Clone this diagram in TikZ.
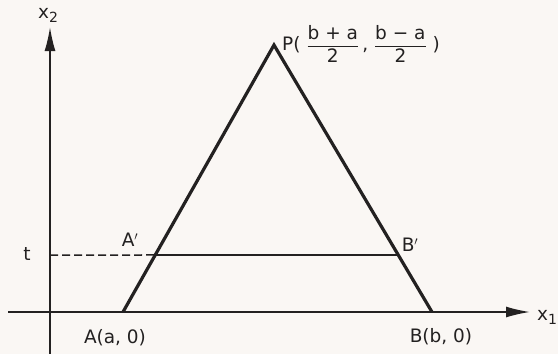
\documentclass[tikz,border=0pt]{standalone}
\usepackage{amsmath}
\usepackage{fontspec}
\setmainfont{DejaVu Sans}
\usetikzlibrary{arrows.meta,calc}
\definecolor{paper}{RGB}{250,247,244}
\definecolor{ink}{RGB}{35,33,33}
\tikzset{
  axis/.style={draw=ink,line width=1.7pt,-{Latex[length=24pt,width=11pt]}},
  tri/.style={draw=ink,line width=3.2pt,line join=miter},
  lab/.style={text=ink,inner sep=0pt,font=\fontsize{18.5}{22}\selectfont}
}
\newcommand{\subtx}[1]{\raisebox{-4pt}{\fontsize{14}{16}\selectfont #1}}
\begin{document}
\begin{tikzpicture}[x=1pt,y=-1pt]
\fill[paper] (0,0) rectangle (558,354);
\useasboundingbox (0,0) rectangle (558,354);
\coordinate (O) at (50,312);
\coordinate (ybot) at (50,354);
\coordinate (ytop) at (50,27);
\coordinate (xl) at (8,312);
\coordinate (xr) at (530,312);
\coordinate (A) at (123,312);
\coordinate (B) at (432,312);
\coordinate (P) at (274,45);
\coordinate (Ap) at ($(A)!0.2135!(P)$);
\coordinate (Bp) at ($(B)!0.2135!(P)$);
\coordinate (T) at (50,255);
\draw[axis] (ybot) -- (ytop);
\draw[axis] (xl) -- (xr);
\draw[ink,line width=1.5pt,dash pattern=on 8pt off 4pt] (T) -- (Ap);
\draw[ink,line width=1.5pt] (Ap) -- (Bp);
\draw[tri] (A) -- (P) -- (B);
\node[lab] (lx2) at (48,15) {x\subtx{2}};
\node[lab] (lx1) at (547,317) {x\subtx{1}};
\node[lab] (lt) at (27,254) {t};
\node[lab] (lA') at (130,240) {A$'$};
\node[lab] (lB') at (410,245) {B$'$};
\node[lab] (lA) at (115,338) {A(a, 0)};
\node[lab] (lB) at (441,337) {B(b, 0)};
\node[lab,anchor=west] (lP) at (282,44) {P( $\displaystyle\frac{\text{b + a}}{\text{2}}$\,, $\displaystyle\frac{\text{b − a}}{\text{2}}$ )};
\end{tikzpicture}
\end{document}
